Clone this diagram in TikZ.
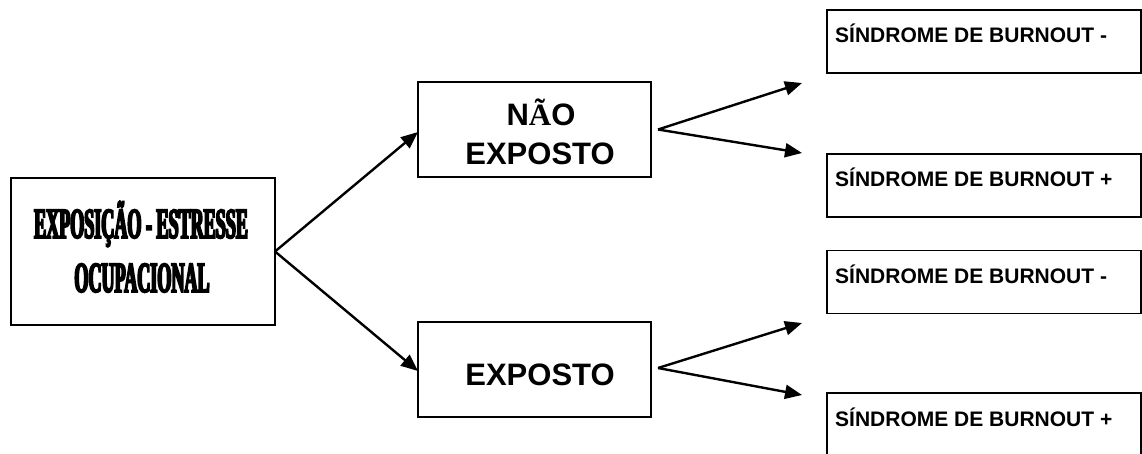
\documentclass[tikz,border=0pt]{standalone}
\usepackage{fontspec}
\setmainfont{Liberation Sans}
\newfontfamily\tnr{Liberation Serif}
\newfontfamily\condfont{Liberation Serif}[FakeStretch=0.42,FakeBold=4]
\usetikzlibrary{arrows.meta}
\tikzset{
  box/.style={draw=black, line width=1.3pt, inner sep=0pt, outer sep=0pt, fill=white},
  rbox/.style={box, minimum width=314pt, minimum height=63pt},
  mbox/.style={box, minimum width=233pt, minimum height=95pt},
  txt/.style={inner sep=0pt, anchor=base},
  condtxt/.style={txt, font=\condfont\bfseries\fontsize{43}{43}\selectfont},
  bigtxt/.style={txt, font=\bfseries\fontsize{31}{31}\selectfont},
  smalltxt/.style={inner sep=0pt, anchor=base west, font=\bfseries\fontsize{21}{21}\selectfont},
  arr/.style={line width=2.4pt, -{Triangle[length=17pt,width=14pt]}}
}
\begin{document}
\begin{tikzpicture}[x=1pt,y=-1pt]
\clip (0,0) rectangle (1142,453);
\fill[white] (0,0) rectangle (1142,453);
% left box
\node[box, minimum width=264pt, minimum height=147pt] (expo) at (143,251.5) {};
\node[condtxt] (expol1) at (141,238) {EXPOSIÇÃO - ESTRESSE};
\node[condtxt] (expol2) at (142,292) {OCUPACIONAL};
% middle boxes
\node[mbox] (nao) at (534.5,129.5) {};
\node[bigtxt] (naol1) at (541,125) {N{\tnr Ã}O};
\node[bigtxt] (naol2) at (540,164) {EXPOSTO};
\node[mbox] (exp) at (534.5,369.5) {};
\node[bigtxt] (expl) at (540,385) {EXPOSTO};
% right boxes
\node[rbox] (r1) at (984,41.5) {};
\node[smalltxt] (r1t) at (835,42) {SÍNDROME DE BURNOUT -};
\node[rbox] (r2) at (984,185.5) {};
\node[smalltxt] (r2t) at (835,186) {SÍNDROME DE BURNOUT +};
\node[rbox] (r3) at (984,282) {};
\node[smalltxt] (r3t) at (835,283) {SÍNDROME DE BURNOUT -};
\node[rbox] (r4) at (984,424.5) {};
\node[smalltxt] (r4t) at (835,426) {SÍNDROME DE BURNOUT +};
% arrows
\coordinate (nt1) at (802,83);
\coordinate (nt2) at (802,153);
\coordinate (et1) at (802,323);
\coordinate (et2) at (802,395);
\draw[arr] (expo.east) -- ([yshift=-2.5pt]nao.west);
\draw[arr] (expo.east) -- ([yshift=-1.5pt]exp.west);
\draw[arr] ([xshift=7pt]nao.east) -- (nt1);
\draw[arr] ([xshift=7pt]nao.east) -- (nt2);
\draw[arr] ([xshift=7pt,yshift=1.5pt]exp.east) -- (et1);
\draw[arr] ([xshift=7pt,yshift=1.5pt]exp.east) -- (et2);
\end{tikzpicture}
\end{document}
